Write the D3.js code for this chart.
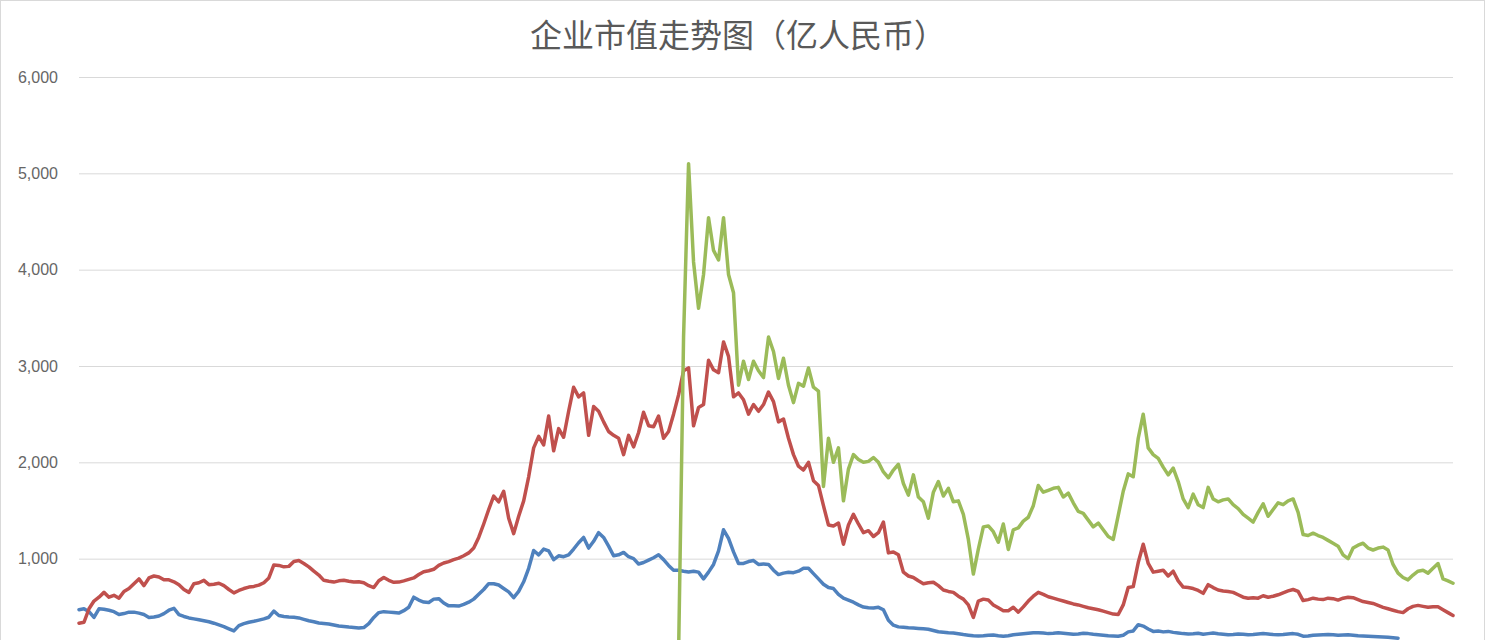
<!DOCTYPE html>
<html>
<head>
<meta charset="utf-8">
<script src="https://cdn.jsdelivr.net/npm/d3@7/dist/d3.min.js"></script>
<style>
html,body{margin:0;padding:0;background:#fff;overflow:hidden;}
svg{display:block;}
</style>
</head>
<body>
<svg id="chart" width="1489" height="640"></svg>
<script>
const titleText = "企业市值走势图（亿人民币）";
const yTicks = [1000, 2000, 3000, 4000, 5000, 6000];
const yDomain = [0, 6000];
const pointCount = 276;   // evenly spaced observations along the time axis

// Series values (亿人民币)
const blueVals = [470,480,450,390,480,475,465,450,420,430,
445,445,435,420,390,395,405,430,465,485,
420,400,385,375,365,355,345,330,312,295,
272,250,305,325,340,350,362,375,392,455,
410,400,395,392,385,370,355,345,332,328,
322,312,302,296,290,286,280,285,325,390,
440,450,445,440,435,460,495,600,570,550,
545,580,585,540,510,510,508,525,548,580,
630,680,740,740,726,690,655,595,660,760,
900,1085,1040,1100,1080,990,1030,1020,1040,1100,
1165,1220,1110,1180,1270,1220,1130,1030,1040,1065,
1020,1000,945,960,985,1010,1040,990,930,880,
880,870,862,870,860,790,860,940,1080,1300,
1210,1070,950,950,970,980,940,945,940,880,
835,850,858,855,870,900,900,845,790,735,
700,690,630,590,570,548,520,498,490,487,
495,470,360,310,292,288,283,280,276,272,
268,255,242,236,230,228,220,212,206,200,
197,200,205,207,200,195,200,210,215,220,
225,230,232,228,222,225,230,226,220,215,
218,225,222,215,210,205,200,198,195,205,
240,250,315,300,270,245,250,240,245,235,
228,222,218,220,225,215,222,228,220,215,
210,212,218,215,210,212,218,222,218,212,
210,212,218,222,215,195,198,205,208,210,
212,210,205,208,210,206,200,198,195,192,
190,188,185,180,175];

const redVals = [330,340,480,560,600,650,600,620,590,660,
690,740,790,720,800,820,810,780,780,760,
730,680,650,740,750,775,730,735,745,720,
680,645,670,690,705,712,725,750,800,935,
930,915,920,970,980,950,915,870,830,775,
765,757,770,775,765,757,760,750,720,700,
770,805,775,755,757,770,785,800,835,865,
875,890,930,955,970,990,1005,1030,1060,1110,
1220,1360,1510,1650,1590,1700,1420,1260,1440,1600,
1850,2150,2270,2180,2480,2120,2350,2260,2530,2780,
2680,2720,2280,2580,2530,2420,2320,2280,2250,2080,
2280,2160,2310,2520,2380,2370,2480,2250,2320,2500,
2700,2950,2980,2380,2570,2600,3060,2960,2930,3250,
3100,2680,2720,2650,2500,2600,2530,2600,2730,2630,
2420,2450,2250,2080,1960,1920,2000,1810,1760,1550,
1350,1340,1370,1150,1350,1460,1360,1270,1290,1230,
1270,1380,1060,1070,1040,860,820,805,770,740,
750,755,720,675,660,650,610,580,520,390,
560,580,570,520,490,460,460,495,445,500,
560,610,650,630,605,590,575,560,545,530,
520,505,490,480,470,455,440,425,420,520,
700,710,960,1150,950,860,870,880,820,870,
770,705,700,690,670,640,730,700,675,665,
660,650,625,600,590,595,590,615,600,610,
625,645,665,680,660,565,575,590,580,575,
590,585,570,590,600,595,575,555,545,535,
515,495,480,465,450,440,480,505,515,505,
495,500,500,470,440,410];

const greenStartIndex = 120;
const greenVals = [0,3300,5100,4080,3600,3950,4540,4200,4100,4540,
3950,3760,2800,3050,2860,3050,2950,2880,3300,3150,
2870,3080,2800,2620,2820,2790,2980,2780,2740,1750,
2250,2000,2150,1600,1930,2080,2030,2000,2010,2050,
2000,1900,1840,1920,1980,1780,1660,1870,1640,1590,
1420,1690,1800,1650,1730,1590,1600,1460,1200,840,
1100,1330,1340,1280,1170,1360,1095,1300,1320,1390,
1430,1550,1760,1690,1710,1730,1740,1640,1680,1580,
1490,1470,1400,1330,1370,1300,1230,1200,1450,1700,
1880,1850,2250,2500,2150,2080,2040,1950,1870,1940,
1800,1620,1530,1670,1560,1530,1740,1620,1590,1610,
1620,1560,1520,1460,1420,1380,1480,1570,1440,1510,
1580,1560,1600,1620,1480,1250,1240,1265,1240,1220,
1190,1160,1130,1040,1000,1110,1140,1160,1110,1090,
1110,1120,1090,940,850,805,780,830,870,880,
850,900,950,790,770,745];

const series = [
  {name: "A", color: "#4F81BD", points: blueVals.map((v, i) => ({i, v}))},
  {name: "B", color: "#C0504D", points: redVals.map((v, i) => ({i, v}))},
  {name: "C", color: "#9BBB59", points: greenVals.map((v, k) => ({i: k + greenStartIndex, v}))}
];

const W = 1489, H = 640;
const margin = {left: 79, right: 36, top: 77};
const zeroY = 655;

const svg = d3.select("#chart");

// chart border
svg.append("rect")
  .attr("x", 0.5).attr("y", 0.5)
  .attr("width", 1484).attr("height", 700)
  .attr("fill", "none").attr("stroke", "#D9D9D9").attr("stroke-width", 1);

const x = d3.scaleLinear().domain([0, pointCount - 1]).range([margin.left, W - margin.right]);
const y = d3.scaleLinear().domain(yDomain).range([zeroY, margin.top]);

// title
svg.append("text")
  .attr("x", 738).attr("y", 47)
  .attr("text-anchor", "middle")
  .attr("font-family", "'Noto Sans CJK SC', sans-serif")
  .attr("font-size", 32)
  .attr("fill", "#595959")
  .text(titleText);

// y axis with gridlines
const yAxis = d3.axisLeft(y)
  .tickValues(yTicks)
  .tickSize(-(W - margin.right - margin.left))
  .tickPadding(21)
  .tickFormat(d3.format(","));

const g = svg.append("g")
  .attr("transform", `translate(${margin.left},0)`)
  .call(yAxis);
g.select(".domain").remove();
g.selectAll(".tick line").attr("stroke", "#D9D9D9").attr("stroke-width", 1);
g.selectAll(".tick text")
  .attr("font-family", "'Liberation Sans', Arial, sans-serif")
  .attr("font-size", 16)
  .attr("fill", "#666666");

// lines
const line = d3.line()
  .x(d => x(d.i))
  .y(d => y(d.v));

svg.append("g").selectAll("path")
  .data(series)
  .join("path")
  .attr("d", d => line(d.points))
  .attr("fill", "none")
  .attr("stroke", d => d.color)
  .attr("stroke-width", 3.5)
  .attr("stroke-linejoin", "round")
  .attr("stroke-linecap", "round");
</script>
</body>
</html>
